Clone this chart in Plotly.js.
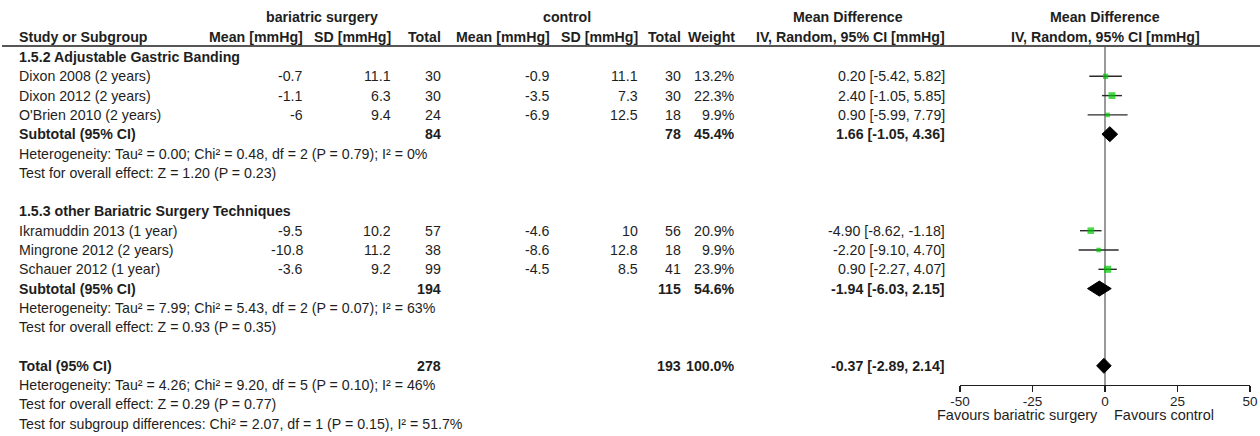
<!DOCTYPE html>
<html>
<head>
<meta charset="utf-8">
<script src="https://cdn.plot.ly/plotly-3.0.1.min.js"></script>
<style>
  html, body { margin: 0; padding: 0; background: #fff; }
  #chart { width: 1260px; height: 436px; }
</style>
</head>
<body>
<div id="chart"></div>
<script>
// ---- study level data (change in blood pressure, mmHg) ----
const studies   = ["Dixon 2008 (2 years)", "Dixon 2012 (2 years)", "O'Brien 2010 (2 years)",
                   "Ikramuddin 2013 (1 year)", "Mingrone 2012 (2 years)", "Schauer 2012 (1 year)"];
const expMean   = [-0.7, -1.1, -6, -9.5, -10.8, -3.6];
const expSD     = [11.1, 6.3, 9.4, 10.2, 11.2, 9.2];
const expN      = [30, 30, 24, 57, 38, 99];
const ctlMean   = [-0.9, -3.5, -6.9, -4.6, -8.6, -4.5];
const ctlSD     = [11.1, 7.3, 12.5, 10, 12.8, 8.5];
const ctlN      = [30, 30, 18, 56, 18, 41];
const weight    = [13.2, 22.3, 9.9, 20.9, 9.9, 23.9];
const md        = [0.20, 2.40, 0.90, -4.90, -2.20, 0.90];
const ciLow     = [-5.42, -1.05, -5.99, -8.62, -9.10, -2.27];
const ciHigh    = [5.82, 5.85, 7.79, -1.18, 4.70, 4.07];

// ---- pooled estimates: two subgroups and the overall total ----
const pooledLabel  = ["Subtotal (95% CI)", "Subtotal (95% CI)", "Total (95% CI)"];
const pooledExpN   = [84, 194, 278];
const pooledCtlN   = [78, 115, 193];
const pooledWeight = [45.4, 54.6, 100.0];
const pooledMd     = [1.66, -1.94, -0.37];
const pooledLow    = [-1.05, -6.03, -2.89];
const pooledHigh   = [4.36, 2.15, 2.14];

const subgroupTitles = ["1.5.2 Adjustable Gastric Banding", "1.5.3 other Bariatric Surgery Techniques"];
const heterogeneity = [
  "Heterogeneity: Tau² = 0.00; Chi² = 0.48, df = 2 (P = 0.79); I² = 0%",
  "Heterogeneity: Tau² = 7.99; Chi² = 5.43, df = 2 (P = 0.07); I² = 63%",
  "Heterogeneity: Tau² = 4.26; Chi² = 9.20, df = 5 (P = 0.10); I² = 46%"
];
const overallEffect = [
  "Test for overall effect: Z = 1.20 (P = 0.23)",
  "Test for overall effect: Z = 0.93 (P = 0.35)",
  "Test for overall effect: Z = 0.29 (P = 0.77)"
];
const subgroupDiff = "Test for subgroup differences: Chi² = 2.07, df = 1 (P = 0.15), I² = 51.7%";

const axisTicks  = [-50, -25, 0, 25, 50];
const axisLabels = ["-50", "-25", "0", "25", "50"];
const favoursLeft  = "Favours bariatric surgery";
const favoursRight = "Favours control";

// ---- layout geometry (pixels) ----
const W = 1260, H = 436;
const ROW0 = 57, STEP = 19.3;               // first table row centre and row pitch
const px = v => v / W;                      // pixel x -> paper x
const py = v => 1 - v / H;                  // pixel y -> paper y
const FONT = "Liberation Sans, Arial, Helvetica, sans-serif";
const FS = 14.2;
const INK = "#1e1e1e";

// table rows (row index; each step is one text line)
const titleRows  = [0, 8];
const studyRows  = [1, 2, 3, 9, 10, 11];
const pooledRows = [4, 12, 16];
const hetRows    = [5, 13, 17];
const testRows   = [6, 14, 18];
const subDiffRow = 19;

// column right edges (pixels)
const COL = { study: 17, eMean: 305, eSD: 393, eN: 443, cMean: 552, cSD: 640, cN: 683, w: 737, ci: 947 };
const PLOT_L = 960, PLOT_R = 1250, AXIS_Y = 385, HEAD_LINE_Y = 46;

const ann = [];
function txt(text, x, y, anchor, bold, yref, size) {
  ann.push({
    text: bold ? "<b>" + text + "</b>" : text,
    x: x, y: y, xref: "paper", yref: yref || "y",
    xanchor: anchor, yanchor: "middle", showarrow: false,
    font: { family: FONT, size: size || FS, color: INK }
  });
}
const fmt2 = v => v.toFixed(2);
const ciText = (m, l, h) => fmt2(m) + " [" + fmt2(l) + ", " + fmt2(h) + "]";

// column headers
const H1 = 17, H2 = 37;
txt("bariatric surgery", px(322), py(H1), "center", true, "paper");
txt("control", px(567), py(H1), "center", true, "paper");
txt("Mean Difference", px(848), py(H1), "center", true, "paper");
txt("Mean Difference", px((PLOT_L + PLOT_R) / 2), py(H1), "center", true, "paper");
txt("Study or Subgroup", px(COL.study), py(H2), "left", true, "paper");
txt("Mean [mmHg]", px(COL.eMean), py(H2), "right", true, "paper");
txt("SD [mmHg]", px(COL.eSD), py(H2), "right", true, "paper");
txt("Total", px(COL.eN), py(H2), "right", true, "paper");
txt("Mean [mmHg]", px(COL.cMean), py(H2), "right", true, "paper");
txt("SD [mmHg]", px(COL.cSD), py(H2), "right", true, "paper");
txt("Total", px(COL.cN), py(H2), "right", true, "paper");
txt("Weight", px(COL.w), py(H2), "right", true, "paper");
txt("IV, Random, 95% CI [mmHg]", px(COL.ci), py(H2), "right", true, "paper");
txt("IV, Random, 95% CI [mmHg]", px((PLOT_L + PLOT_R) / 2), py(H2), "center", true, "paper");

// subgroup titles
subgroupTitles.forEach((t, i) => txt(t, px(COL.study), titleRows[i], "left", true));

// study rows
studies.forEach((s, i) => {
  const r = studyRows[i];
  txt(s, px(COL.study), r, "left", false);
  txt(String(expMean[i]), px(COL.eMean), r, "right", false);
  txt(String(expSD[i]), px(COL.eSD), r, "right", false);
  txt(String(expN[i]), px(COL.eN), r, "right", false);
  txt(String(ctlMean[i]), px(COL.cMean), r, "right", false);
  txt(String(ctlSD[i]), px(COL.cSD), r, "right", false);
  txt(String(ctlN[i]), px(COL.cN), r, "right", false);
  txt(weight[i].toFixed(1) + "%", px(COL.w), r, "right", false);
  txt(ciText(md[i], ciLow[i], ciHigh[i]), px(COL.ci), r, "right", false);
});

// pooled rows and their statistics
pooledLabel.forEach((lab, i) => {
  const r = pooledRows[i];
  txt(lab, px(COL.study), r, "left", true);
  txt(String(pooledExpN[i]), px(COL.eN), r, "right", true);
  txt(String(pooledCtlN[i]), px(COL.cN), r, "right", true);
  txt(pooledWeight[i].toFixed(1) + "%", px(COL.w), r, "right", true);
  txt(ciText(pooledMd[i], pooledLow[i], pooledHigh[i]), px(COL.ci), r, "right", true);
  txt(heterogeneity[i], px(COL.study), hetRows[i], "left", false);
  txt(overallEffect[i], px(COL.study), testRows[i], "left", false);
});
txt(subgroupDiff, px(COL.study), subDiffRow, "left", false);

// favours labels under the axis
txt(favoursLeft, px(1100), py(415), "right", false, "paper", 14.5);
txt(favoursRight, px(1112), py(415), "left", false, "paper", 14.5);

// ---- traces ----
const traces = [];

// individual studies: CI whiskers with weight-scaled squares
traces.push({
  type: "scatter", mode: "markers",
  x: md, y: studyRows,
  marker: { symbol: "square", color: "#00c800", size: weight.map(w => 1.45 * Math.sqrt(w)), line: { width: 0 } },
  error_x: {
    type: "data", symmetric: false,
    array: ciHigh.map((h, i) => h - md[i]),
    arrayminus: ciLow.map((l, i) => md[i] - l),
    color: "#2a2a2a", thickness: 1.4, width: 0
  },
  hoverinfo: "skip", showlegend: false, cliponaxis: false
});

// pooled diamonds
const HALF = 7.5 / STEP;   // diamond half height in row units
pooledMd.forEach((m, i) => {
  const r = pooledRows[i];
  traces.push({
    type: "scatter", mode: "lines",
    x: [pooledLow[i], m, pooledHigh[i], m, pooledLow[i]],
    y: [r, r - HALF, r, r + HALF, r],
    fill: "toself", fillcolor: "#000", line: { color: "#000", width: 1 },
    hoverinfo: "skip", showlegend: false
  });
});

const layout = {
  width: W, height: H,
  margin: { l: 0, r: 0, t: 0, b: 0 },
  paper_bgcolor: "#fff", plot_bgcolor: "rgba(0,0,0,0)",
  font: { family: FONT, size: FS, color: INK },
  showlegend: false,
  xaxis: {
    domain: [px(PLOT_L), px(PLOT_R)], range: [-50, 50],
    anchor: "free", position: py(AXIS_Y),
    showline: true, linecolor: "#1e1e1e", linewidth: 1.3,
    ticks: "outside", ticklen: 6, tickwidth: 1.3, tickcolor: "#1e1e1e",
    ticklabelstandoff: -3,
    tickvals: axisTicks, ticktext: axisLabels,
    tickfont: { family: FONT, size: 13.5, color: INK },
    showgrid: false, zeroline: false, fixedrange: true
  },
  xaxis2: {
    domain: [px(PLOT_L), px(PLOT_R)], range: [-50, 50], overlaying: "x",
    anchor: "free", position: py(AXIS_Y),
    showline: false, ticks: "inside", ticklen: 3, tickwidth: 1.3, tickcolor: "#1e1e1e",
    tickvals: axisTicks, showticklabels: false, showgrid: false, zeroline: false
  },
  yaxis: {
    domain: [0, 1], range: [(H - ROW0) / STEP, -ROW0 / STEP],
    visible: false, showgrid: false, zeroline: false, fixedrange: true
  },
  shapes: [
    // rule under the column headers
    { type: "line", xref: "paper", yref: "paper", x0: px(2), x1: 1, y0: py(HEAD_LINE_Y), y1: py(HEAD_LINE_Y),
      line: { color: "#1e1e1e", width: 1.6 } },
    // line of no effect
    { type: "line", xref: "x", yref: "paper", x0: 0, x1: 0, y0: py(HEAD_LINE_Y + 1), y1: py(AXIS_Y),
      line: { color: "#808080", width: 1.6 }, layer: "below" }
  ],
  annotations: ann
};

Plotly.newPlot("chart", traces, layout, { staticPlot: true, displayModeBar: false });
</script>
</body>
</html>
